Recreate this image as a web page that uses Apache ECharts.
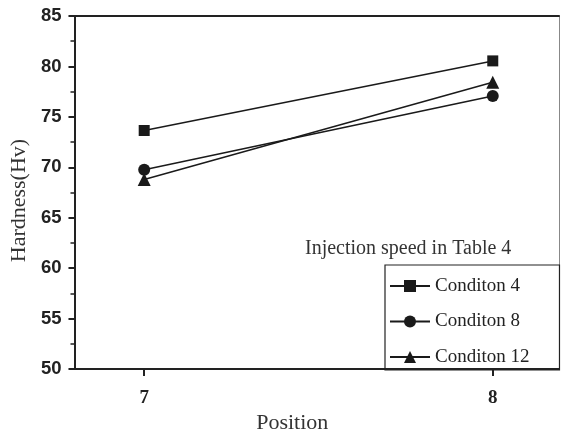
<!DOCTYPE html>
<html>
<head>
<meta charset="utf-8">
<script src="https://cdn.jsdelivr.net/npm/echarts@6/dist/echarts.min.js"></script>
<style>html,body{margin:0;padding:0;background:#fff;}#c{width:563px;height:439px;}</style>
</head>
<body>
<div id="c"></div>
<script>
const positions = [7, 8];
const seriesNames = ['Conditon 4', 'Conditon 8', 'Conditon 12'];
const cond4 = [73.65, 80.55];
const cond8 = [69.76, 77.07];
const cond12 = [68.8, 78.44];
const yTicks = [50, 55, 60, 65, 70, 75, 80, 85];
const annotation = 'Injection speed in Table 4';

const serif = 'Liberation Serif';
const sans = 'Liberation Sans';
const ink = '#1a1a1a';

function pairs(vals) { return positions.map((p, i) => [p, vals[i]]); }

const chart = echarts.init(document.getElementById('c'), null, { renderer: 'canvas' });
chart.setOption({
  animation: false,
  backgroundColor: '#fff',
  title: {
    text: annotation, left: 300, top: 234,
    textStyle: { fontFamily: serif, fontSize: 20, fontWeight: 'normal', color: '#333' }
  },
  legend: {
    orient: 'vertical', left: 385, top: 265,
    data: seriesNames,
    itemWidth: 40, itemHeight: 15, itemGap: 16.5,
    padding: [11.5, 30, 3.5, 4],
    borderColor: '#222', borderWidth: 1.2,
    textStyle: { fontFamily: serif, fontSize: 19, color: '#222' }
  },
  grid: { left: 74, right: 4, top: 16, bottom: 64, containLabel: false },
  xAxis: [{
    type: 'value', min: 6.8, max: 8.19, position: 'bottom',
    name: 'Position', nameLocation: 'middle', nameGap: 39,
    nameTextStyle: { fontFamily: serif, fontSize: 22, color: '#333', padding: [0, 49, 0, 0] },
    axisLine: { show: true, onZero: false, lineStyle: { color: '#222', width: 2 } },
    axisTick: { show: true, customValues: positions, length: 7, lineStyle: { color: '#222', width: 2 } },
    axisLabel: { customValues: positions, margin: 19, fontFamily: serif, fontWeight: 'bold', fontSize: 19, color: '#222' },
    splitLine: { show: false }
  }, {
    type: 'value', min: 6.8, max: 8.19, position: 'top',
    axisLine: { show: true, onZero: false, lineStyle: { color: '#222', width: 2 } },
    axisTick: { show: false }, axisLabel: { show: false }, splitLine: { show: false }
  }],
  yAxis: [{
    type: 'value', min: 50, max: 85, interval: 5,
    name: 'Hardness(Hv)', nameLocation: 'middle', nameGap: 43,
    nameTextStyle: { fontFamily: serif, fontSize: 22, color: '#333', padding: [0, 16, 0, 0] },
    axisLine: { show: true, onZero: false, lineStyle: { color: '#222', width: 2 } },
    axisTick: { show: true, length: 6, lineStyle: { color: '#222', width: 2 } },
    minorTick: { show: true, splitNumber: 2, length: 4, lineStyle: { color: '#222', width: 1.5 } },
    axisLabel: { margin: 13, fontFamily: sans, fontWeight: 'bold', fontSize: 18.5, color: '#222' },
    splitLine: { show: false }
  }, {
    type: 'value', min: 50, max: 85, position: 'right',
    axisLine: { show: true, onZero: false, lineStyle: { color: '#888', width: 1 } },
    axisTick: { show: false }, axisLabel: { show: false }, splitLine: { show: false }
  }],
  series: [
    { name: seriesNames[0], type: 'line', data: pairs(cond4), symbol: 'rect', symbolSize: 11,
      lineStyle: { color: ink, width: 1.5 }, itemStyle: { color: ink } },
    { name: seriesNames[1], type: 'line', data: pairs(cond8), symbol: 'circle', symbolSize: 12,
      lineStyle: { color: ink, width: 1.5 }, itemStyle: { color: ink } },
    { name: seriesNames[2], type: 'line', data: pairs(cond12), symbol: 'triangle', symbolSize: [13, 13],
      lineStyle: { color: ink, width: 1.5 }, itemStyle: { color: ink } }
  ]
});
</script>
</body>
</html>
